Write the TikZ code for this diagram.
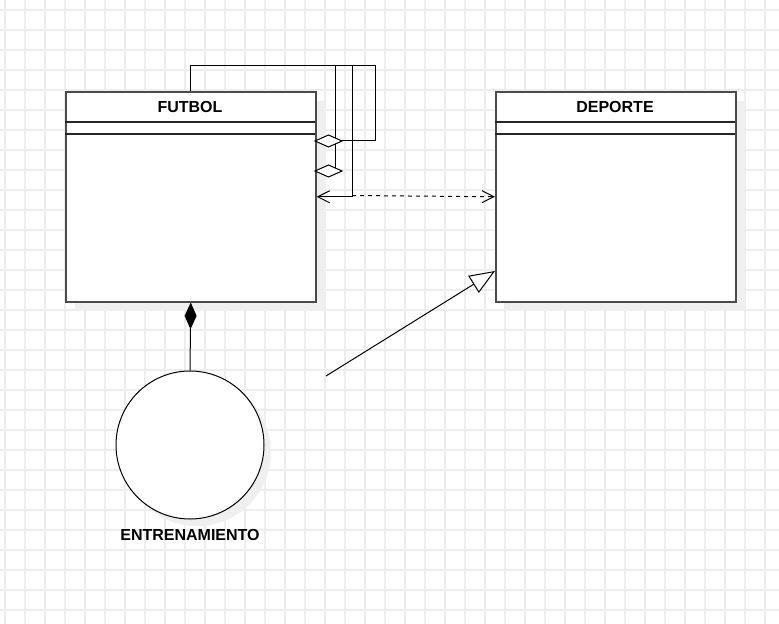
\documentclass[tikz,border=0pt]{standalone}
\usepackage{fontspec}
\setmainfont{Liberation Sans}
\usetikzlibrary{arrows.meta}
\definecolor{gridc}{HTML}{EDEDED}
\definecolor{shadowc}{HTML}{EFEFEF}
\definecolor{boxc}{HTML}{4A4A4A}
\tikzset{
  gridline/.style={draw=gridc, line width=0.85pt},
  umlbox/.style={draw=boxc, line width=1.15pt, fill=white, inner sep=0pt, anchor=north west},
  shadowbox/.style={fill=shadowc, draw=none, inner sep=0pt, anchor=north west},
  sepline/.style={draw=black!85, line width=0.8pt},
  titletext/.style={font=\fontsize{12}{14}\selectfont\bfseries, inner sep=0pt},
  conn/.style={draw=black, line width=0.75pt},
  openarrow/.style={-{Straight Barb[length=9pt, width=9pt, line width=0.75pt]}},
}
\begin{document}
\begin{tikzpicture}[x=0.75pt, y=-0.75pt]
\useasboundingbox (0,0) rectangle (779,624);
\fill[white] (0,0) rectangle (779,624);
% grid
\foreach \gx in {5,25,...,779} \draw[gridline] (\gx,0) -- (\gx,624);
\foreach \gy in {10,30,...,624} \draw[gridline] (0,\gy) -- (779,\gy);
% shadows
\node[shadowbox, minimum width=187.5pt, minimum height=157.5pt] at (75,101) {};
\node[shadowbox, minimum width=180pt, minimum height=157.5pt] at (505,101) {};
\fill[shadowc] (197,452) circle[radius=74];
% boxes
\node[umlbox, minimum width=187.5pt, minimum height=157.5pt] (futbol) at (65,91) {};
\draw[sepline] (65,122) -- (315,122);
\draw[sepline] (65,134) -- (315,134);
\node[titletext] (futboltitle) at (190,106.5) {FUTBOL};
\node[umlbox, minimum width=180pt, minimum height=157.5pt] (deporte) at (495,91) {};
\draw[sepline] (495,122) -- (735,122);
\draw[sepline] (495,134) -- (735,134);
\node[titletext] (deportetitle) at (615,106.5) {DEPORTE};
% circle
\node[draw=black, line width=0.75pt, fill=white, circle, minimum size=111pt, inner sep=0pt] (entren) at (190,445) {};
\node[titletext] (entrenlabel) at (190,535) {ENTRENAMIENTO};
% coordinates
\coordinate (aggA) at (315,141);
\coordinate (aggB) at (315,171);
\coordinate (genend) at (495,271);
\coordinate (genstart) at (326,376);
% edges from top of FUTBOL
\draw[conn] (futbol.north) |- (375,66) |- (342,141);
\draw[conn] (futbol.north) |- (335,66) -- (335,171);
\draw[conn, openarrow] (futbol.north) |- (352,66) |- (futbol.east);
% open diamonds
\draw[conn, fill=white] (aggA) -- ++(13.5,-6) -- ++(13.5,6) -- ++(-13.5,6) -- cycle;
\draw[conn, fill=white] (aggB) -- ++(13.5,-6) -- ++(13.5,6) -- ++(-13.5,6) -- cycle;
% dashed dependency
\draw[conn, dash pattern=on 3pt off 3pt, openarrow] (352,195.5) -- (deporte.west);
% generalization
\draw[conn, -{Triangle[open, length=19pt, width=15pt, fill=white, line width=0.75pt]}] (genstart) -- (genend);
% composition
\draw[conn, -{Diamond[length=20pt, width=9pt, fill=black, line width=0.75pt]}] (entren.north) -- (futbol.south);
\end{tikzpicture}
\end{document}
